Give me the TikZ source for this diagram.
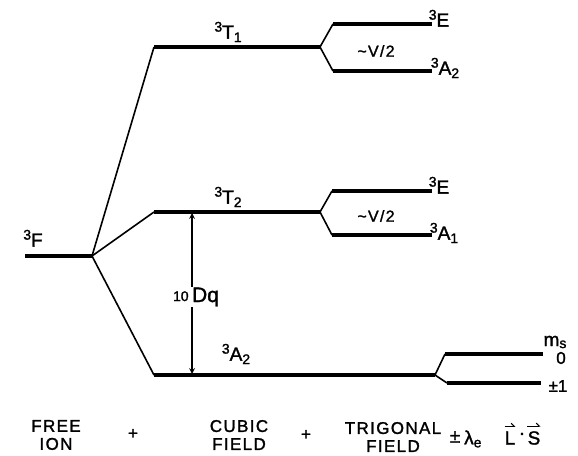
\documentclass[tikz,border=0pt]{standalone}
\usepackage{fontspec}
\usetikzlibrary{arrows.meta}
\setmainfont[FakeBold=1.5]{Liberation Sans}
\newfontfamily\lett[LetterSpace=8, FakeBold=1.5]{Liberation Sans}
\newcommand\term[3]{\raisebox{7pt}{\fontsize{14}{14}\selectfont #1}#2\raisebox{-3.5pt}{\fontsize{14}{14}\selectfont #3}}
\begin{document}
\begin{tikzpicture}[x=1pt, y=-1pt,
    level/.style = {line width=3.2pt},
    link/.style = {line width=1.6pt},
    lab/.style = {inner sep=0pt, font=\fontsize{19}{19}\selectfont},
    note/.style = {inner sep=0pt, font=\lett\fontsize{16}{16}\selectfont},
    foot/.style = {inner sep=0pt, align=center, font=\lett\fontsize{17}{18}\selectfont},
    vec/.style = {line width=1.1pt, -{Straight Barb[left, length=3pt]}}]
    \useasboundingbox (0,0) rectangle (578,455);

    \coordinate (F0) at (25,256);
    \coordinate (F1) at (92,256);

    \coordinate (T1l) at (154,47);
    \coordinate (T1r) at (320,47);
    \coordinate (E1l) at (333,24);
    \coordinate (E1r) at (432,24);
    \coordinate (A2l) at (333,71);
    \coordinate (A2r) at (432,71);

    \coordinate (T2l) at (154,212);
    \coordinate (T2r) at (320,212);
    \coordinate (E2l) at (332,191);
    \coordinate (E2r) at (432,191);
    \coordinate (A1l) at (332,235);
    \coordinate (A1r) at (432,235);

    \coordinate (Cl) at (154,375);
    \coordinate (Cr) at (435,375);
    \coordinate (M0l) at (445,354);
    \coordinate (M0r) at (543,354);
    \coordinate (M1l) at (447,383);
    \coordinate (M1r) at (541,383);

    \coordinate (Dt) at (192,213);
    \coordinate (Db) at (192,374);

    \draw[level] (F0) -- (F1);
    \draw[level] (T1l) -- (T1r);
    \draw[level] (E1l) -- (E1r);
    \draw[level] (A2l) -- (A2r);
    \draw[level] (T2l) -- (T2r);
    \draw[level] (E2l) -- (E2r);
    \draw[level] (A1l) -- (A1r);
    \draw[level] (Cl) -- (Cr);
    \draw[level] (M0l) -- (M0r);
    \draw[level] (M1l) -- (M1r);

    \draw[link] (F1) -- (T1l);
    \draw[link] (F1) -- (T2l);
    \draw[link] (F1) -- (Cl);
    \draw[link] (T1r) -- (E1l);
    \draw[link] (T1r) -- (A2l);
    \draw[link] (T2r) -- (E2l);
    \draw[link] (T2r) -- (A1l);
    \draw[link] (Cr) -- (M0l);
    \draw[link] (Cr) -- (M1l);

    \draw[link, <->, >=stealth] (Dt) -- (Db);

    \node[lab] (lF) at (33,240) {\term{3}{F}{}};
    \node[lab] (lT1) at (228,32) {\term{3}{T}{1}};
    \node[lab] (lE1) at (439,20) {\term{3}{E}{}};
    \node[lab] (lA2) at (445,68) {\term{3}{A}{2}};
    \node[note] (lV1) at (376,51) {\textasciitilde V/2};
    \node[lab] (lT2) at (228,197) {\term{3}{T}{2}};
    \node[lab] (lE2) at (439,187) {\term{3}{E}{}};
    \node[lab] (lA1) at (444,233) {\term{3}{A}{1}};
    \node[note] (lV2) at (376,216) {\textasciitilde V/2};
    \node[inner sep=1pt, fill=white, font=\fontsize{21}{21}\selectfont] (lDq) at (196,297) {\raisebox{1pt}{\fontsize{14}{14}\selectfont 10}\,Dq};
    \node[lab] (lA2c) at (236,354) {\term{3}{A}{2}};
    \node[inner sep=0pt, font=\fontsize{19}{19}\selectfont] (lms) at (555,342) {m\raisebox{-2pt}{\fontsize{14}{14}\selectfont s}};
    \node[inner sep=0pt, font=\fontsize{17}{17}\selectfont] (l0) at (561,358) {0};
    \node[inner sep=0pt, font=\fontsize{17}{17}\selectfont] (l1) at (558,386) {±1};

    \node[foot] (free) at (56,435) {FREE\\ION};
    \node[foot] (p1) at (133,434) {+};
    \node[foot] (cubic) at (239,435) {CUBIC\\FIELD};
    \node[foot] (p2) at (306,435) {+};
    \node[foot] (trig) at (393,437) {TRIGONAL\\FIELD};
    \node[lab] (pm) at (455,437) {±};
    \node[lab, anchor=west] (lam) at (464,439) {λ\raisebox{-3pt}{\fontsize{14}{14}\selectfont e}};
    \node[lab] (lL) at (510,438) {L};
    \node[lab] (dot) at (522,436) {·};
    \node[lab] (lS) at (534,438) {S};
    \draw[vec] ([yshift=5pt]lL.north west) -- ([yshift=5pt]lL.north east);
    \draw[vec] ([yshift=5pt]lS.north west) -- ([yshift=5pt]lS.north east);
\end{tikzpicture}
\end{document}
